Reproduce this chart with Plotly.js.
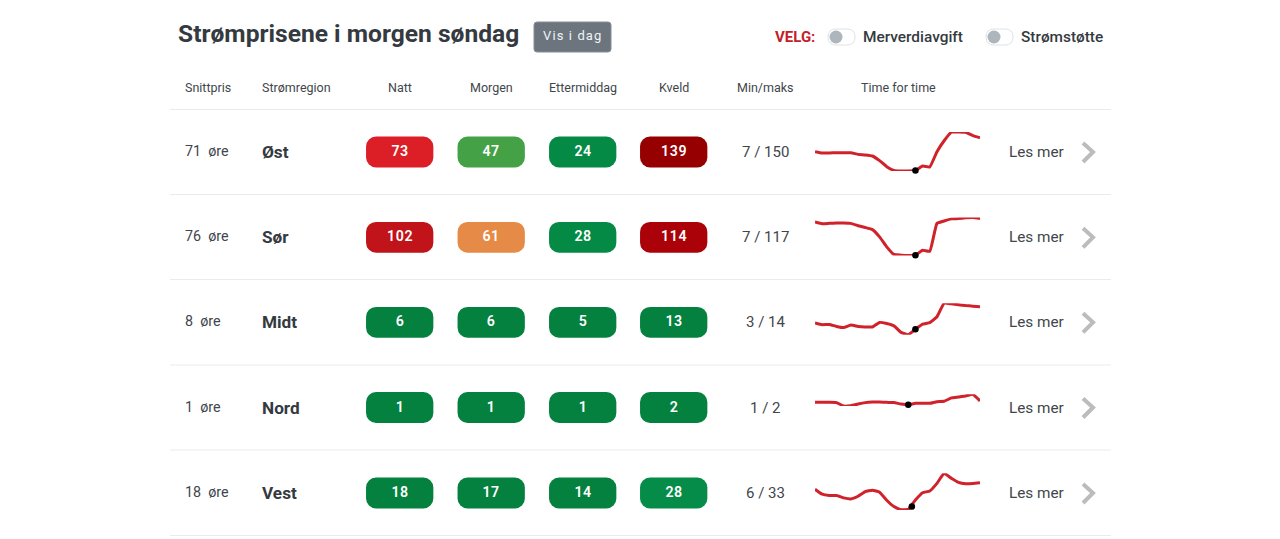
<!DOCTYPE html>
<html lang="no">
<head>
<meta charset="utf-8">
<script src="https://cdn.plot.ly/plotly-3.0.1.min.js"></script>
<style>
html,body{margin:0;padding:0;background:#fff;overflow:hidden}
#chart{width:1280px;height:539px}
.annotation[data-index="1"] text{letter-spacing:1.1px}
.pillvalue{letter-spacing:.6px}
</style>
</head>
<body>
<div id="chart"></div>
<script>
// ---- data ----
const regions = ["Øst", "Sør", "Midt", "Nord", "Vest"];
const averages = ["71", "76", "8", "1", "18"];
const periods = ["Natt", "Morgen", "Ettermiddag", "Kveld"];
const natt = [73, 102, 6, 1, 18];
const morgen = [47, 61, 6, 1, 17];
const ettermiddag = [24, 28, 5, 1, 14];
const kveld = [139, 114, 13, 2, 28];
const minMax = ["7 / 150", "7 / 117", "3 / 14", "1 / 2", "6 / 33"];
const nattColors = ["#dc1f26", "#c0131a", "#04813f", "#04813f", "#04813f"];
const morgenColors = ["#45a146", "#e68b47", "#04813f", "#04813f", "#04813f"];
const ettermiddagColors = ["#058a46", "#058a46", "#04813f", "#04813f", "#04813f"];
const kveldColors = ["#960000", "#aa0208", "#04813f", "#04813f", "#058c48"];
const hours = [0,1,2,3,4,5,6,7,8,9,10,11,12,13,14,15,16,17,18,19,20,21,22,23];
const ost = [78,73,73,74,74,74,68,66,62,45,23,9,7,7,9,25,22,78,118,149,150,149,137,129];
const sor = [104,99,100,101,101,100,93,88,82,61,32,10,8,7,8,22,19,100,107,113,114,116,117,114];
const midt = [7.1,6.5,6.6,5.9,5.5,6.4,5.9,5.7,5.7,7.3,6.9,6.1,3.8,3.0,4.9,6.7,7.2,9.3,14,13.8,13.5,13.2,13.0,12.8];
const nord = [1.31,1.31,1.31,1.29,1.0,1.03,1.17,1.29,1.34,1.34,1.31,1.29,1.17,1.11,1.23,1.23,1.23,1.37,1.4,1.69,1.77,1.86,2.0,1.43];
const vest = [21.2,17.6,16.6,16.6,14.9,14.1,16.1,19.5,20.5,19.1,13.2,8.5,6.2,6.5,13.4,18.7,20,25.6,33,29.3,26.3,25.3,25.5,26];
const dotHours = [14, 14, 14, 13, 13.5];
const dotValues = [9, 8, 4.9, 1.11, 8.5];
const headers = ["Snittpris", "Strømregion", "Natt", "Morgen", "Ettermiddag", "Kveld", "Min/maks", "Time for time"];

// ---- layout constants (pixels of the 1280x539 page) ----
const W = 1280, H = 539;
const rowY = [152, 237.3, 322.3, 407.5, 493];
const ruleY = [109.5, 194.5, 279.5, 365, 450, 535.5];
const colX = [399.7, 491.2, 582.7, 673.7];
const pillW = 67.3, pillH = 30.8;
const ink = "#343a40", soft = "#41464b", ruleCol = "#e9ebec";
const sparkX = [815, 980];
const sparkBands = [
  {lo:7, hi:150, bottom:171, top:132},
  {lo:7, hi:117, bottom:255.5, top:217.5},
  {lo:3, hi:14, bottom:334.7, top:303.3},
  {lo:1, hi:2, bottom:406, top:394.3},
  {lo:6, hi:33, bottom:510, top:473.3}
];
const series = [ost, sor, midt, nord, vest];

const txt = (x, y, text, size, color, anchor, weight) => ({
  x: (anchor && anchor !== "left") ? x : x - 2, y, text, xref:"x", yref:"y", showarrow:false, xanchor:anchor||"left", yanchor:"middle",
  font:{family:"Roboto, sans-serif", size, color, weight:weight||400}
});
function rr(x0, y0, x1, y1, r){
  return `M${x0+r},${y0} L${x1-r},${y0} Q${x1},${y0} ${x1},${y0+r} L${x1},${y1-r} Q${x1},${y1} ${x1-r},${y1} L${x0+r},${y1} Q${x0},${y1} ${x0},${y1-r} L${x0},${y0+r} Q${x0},${y0} ${x0+r},${y0} Z`;
}

// ---- traces ----
const traces = [];
const columns = [natt, morgen, ettermiddag, kveld];
const columnColors = [nattColors, morgenColors, ettermiddagColors, kveldColors];
periods.forEach((p, c) => {
  traces.push({
    type:"bar", name:p, xaxis:"x", yaxis:"y",
    x: regions.map(() => colX[c]),
    base: rowY.map(y => y - pillH/2),
    y: regions.map(() => pillH),
    width: pillW,
    marker:{color:columnColors[c], cornerradius:10, opacity:1, line:{width:0}},
    hoverinfo:"skip"
  });
});
const layout = {
  width:W, height:H, margin:{l:0,r:0,t:0,b:0}, autosize:false,
  paper_bgcolor:"#fff", plot_bgcolor:"#fff", showlegend:false, barmode:"overlay", hovermode:false,
  xaxis:{domain:[0,1], range:[0,W], visible:false, fixedrange:true},
  yaxis:{domain:[0,1], range:[H,0], visible:false, fixedrange:true},
  shapes:[], annotations:[]
};
regions.forEach((r, i) => {
  const n = i + 2;
  const b = sparkBands[i];
  layout["xaxis"+n] = {domain:[sparkX[0]/W, sparkX[1]/W], range:[0,23], visible:false, fixedrange:true, anchor:"y"+n};
  layout["yaxis"+n] = {domain:[1-b.bottom/H, 1-b.top/H], range:[b.lo,b.hi], visible:false, fixedrange:true, anchor:"x"+n};
  traces.push({type:"scatter", mode:"lines", name:r, x:hours, y:series[i], xaxis:"x"+n, yaxis:"y"+n,
    line:{color:"#d0222a", width:3, shape:"spline", smoothing:0.35}, cliponaxis:false, hoverinfo:"skip"});
  traces.push({type:"scatter", mode:"markers", name:r+" nå", x:[dotHours[i]], y:[dotValues[i]], xaxis:"x"+n, yaxis:"y"+n,
    marker:{color:"#000", size:6.5}, cliponaxis:false, hoverinfo:"skip"});
});

// ---- rules, button, toggles, chevrons ----
ruleY.forEach(y => layout.shapes.push({type:"line", xref:"x", yref:"y", x0:170, x1:1111, y0:y, y1:y, line:{color:ruleCol, width:1}}));
layout.shapes.push({type:"path", xref:"x", yref:"y", path:rr(534,22,611,52,3), fillcolor:"#6c757d", line:{color:"#868e96", width:1}});
[[828,855,836],[986,1013,994]].forEach(t => {
  layout.shapes.push({type:"path", xref:"x", yref:"y", path:rr(t[0],29,t[1],45,8), fillcolor:"#fff", line:{color:"#dfe2e5", width:1}});
  layout.shapes.push({type:"circle", xref:"x", yref:"y", x0:t[2]-6.5, x1:t[2]+6.5, y0:30.5, y1:43.5, fillcolor:"#adb5bd", line:{width:0}});
});
rowY.forEach(y => layout.shapes.push({type:"path", xref:"x", yref:"y",
  path:`M1083,${y-9} L1093,${y} L1083,${y+10}`, fillcolor:"rgba(0,0,0,0)", line:{color:"#bcbcbc", width:4}}));

// ---- texts ----
const A = layout.annotations;
A.push(txt(178, 33, "Strømprisene i morgen søndag", 24.6, ink, "left", 700));
A.push(txt(572.5, 35, "Vis i dag", 13, "#f1f3f5", "center", 400));
A.push(txt(775, 37, "VELG:", 15, "#c4202a", "left", 700));
A.push(txt(863, 37, "Merverdiavgift", 15.4, ink, "left", 500));
A.push(txt(1021, 37, "Strømstøtte", 15.4, ink, "left", 500));
const headX = [[185,"left"],[262,"left"],[colX[0],"center"],[colX[1],"center"],[colX[2],"center"],[colX[3],"center"],[765.5,"center"],[898.5,"center"]];
headers.forEach((h, i) => A.push(txt(headX[i][0], 87.5, h, 12.5, soft, headX[i][1])));
regions.forEach((r, i) => {
  A.push(txt(185, rowY[i]-1, averages[i] + "  øre", 14.3, soft));
  A.push(txt(262, rowY[i], r, 17.2, ink, "left", 700));
  A.push(txt(765.5, rowY[i], minMax[i], 15, soft, "center"));
  A.push(txt(1009, rowY[i], "Les mer", 15.3, soft));
  columns.forEach((col, c) => A.push(Object.assign(
    txt(colX[c], rowY[i]-1, String(col[i]), 14.2, "#ffffff", "center", 600), {captureevents:false})));
});

Plotly.newPlot("chart", traces, layout, {displayModeBar:false, staticPlot:true, responsive:false}).then(() => {
  document.querySelectorAll(".annotation text").forEach(t => {
    if (/^\d+$/.test(t.textContent)) t.classList.add("pillvalue");
  });
});
</script>
</body>
</html>
